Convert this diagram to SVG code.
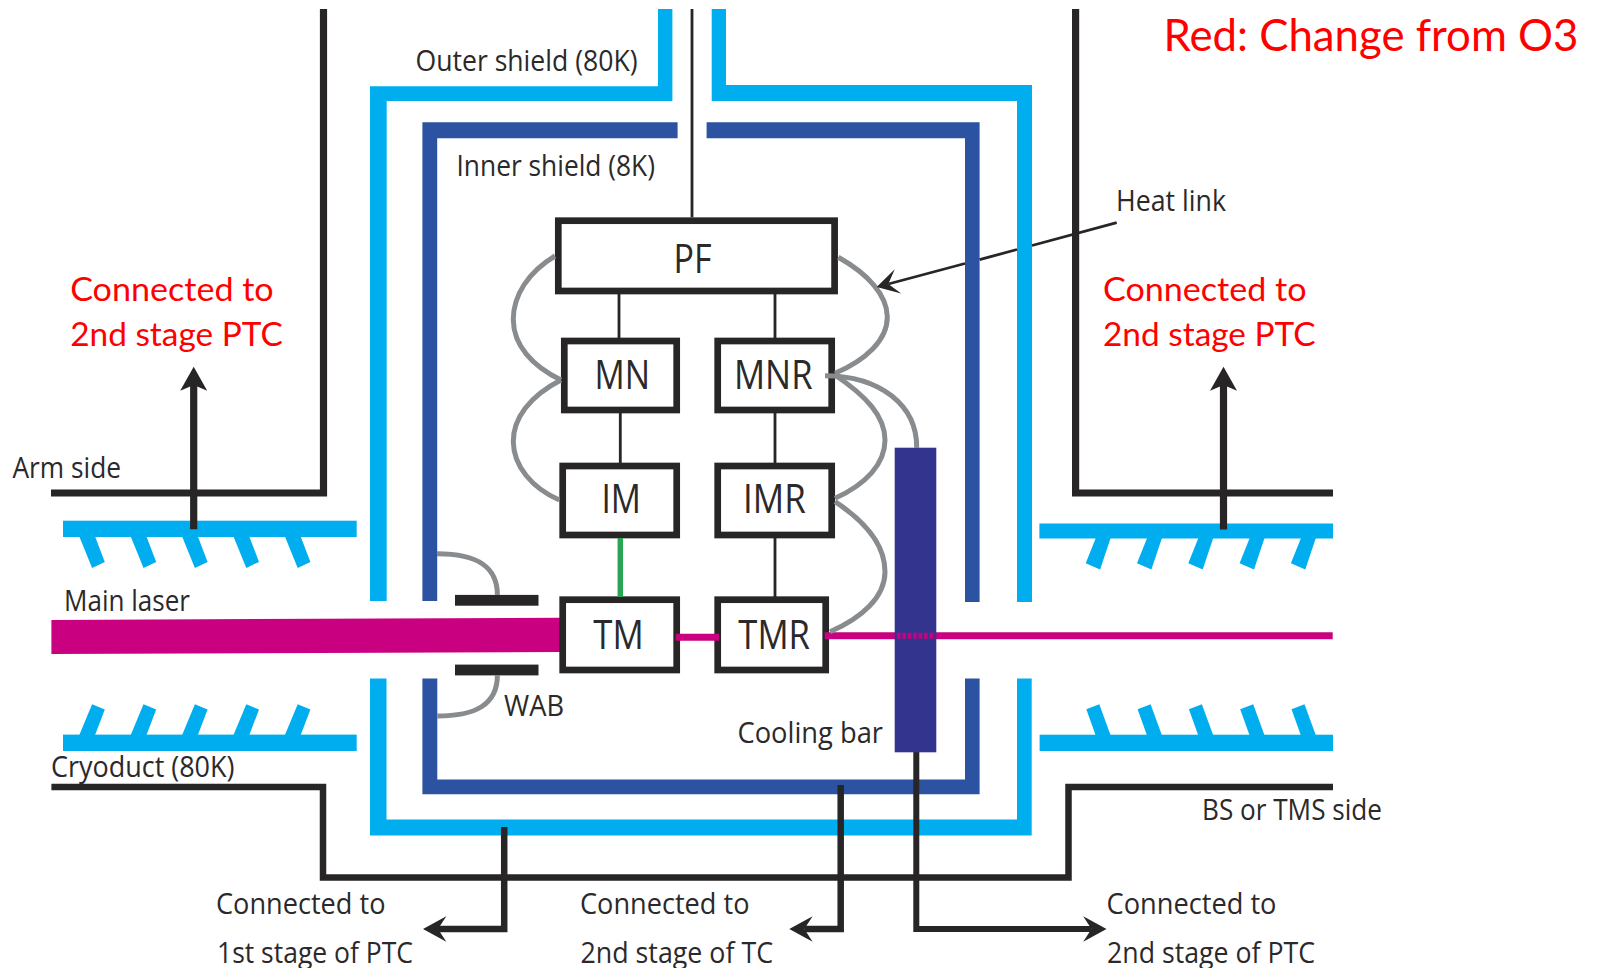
<svg xmlns="http://www.w3.org/2000/svg" width="1599" height="968" viewBox="0 0 1599 968">
<style>
text{font-family:"Open Sans","Noto Sans","Liberation Sans",sans-serif;fill:#2b292a}
.s{font-size:29px}
.n{font-size:41px}
.r{font-family:Lato,"Open Sans","Liberation Sans",sans-serif;fill:#ff0000;font-size:33.5px}
.cy{fill:#00aeef}
.bl{fill:#2b53a1}
.frame{fill:#fff;stroke:#272526;stroke-width:6.7}
.k{fill:none;stroke:#272526;stroke-linejoin:miter}
.wire{fill:none;stroke:#272526;stroke-width:2.8}
.hl{fill:none;stroke:#898c8e;stroke-width:5}
.mg{fill:none;stroke:#c9007f;stroke-width:7}
</style>
<defs>
<marker id="head" markerUnits="userSpaceOnUse" markerWidth="34" markerHeight="34" refX="18" refY="17" orient="auto"><path d="M33 17L9.7 4.3L18 17L9.7 29.7Z" fill="#272526"/></marker>
<marker id="headUp" markerUnits="userSpaceOnUse" markerWidth="34" markerHeight="34" refX="14.7" refY="17" orient="auto"><path d="M33 17L9 3.5L14.7 17L9 30.5Z" fill="#272526"/></marker>
<marker id="headLink" markerUnits="userSpaceOnUse" markerWidth="34" markerHeight="34" refX="15" refY="17" orient="auto"><path d="M27 17L5 4.5L15 17L5 29.5Z" fill="#272526"/></marker>
<path id="hatchA" class="cy" d="M79.1 536L94.9 536L104.8 561.9L92.1 568Z"/>
<path id="hatchB" class="cy" d="M79.1 735.6L94.9 735.6L104.8 709.4L92.1 704.3Z"/>
<path id="hatchC" class="cy" d="M1096 537.5L1110.8 537.5L1100.1 569.5L1085.7 563.3Z"/>
<path id="hatchD" class="cy" d="M1095.8 735.7L1110.8 735.7L1099.3 704.3L1086.3 709.3Z"/>
</defs>
<rect width="1599" height="968" fill="#fff"/>

<g id="shields">
<path class="cy" d="M370 601V86.3H658V9H672.4V101H386.7V601Z"/>
<path class="cy" d="M711.7 9H726V85H1032V602H1017V101H711.7Z"/>
<path class="cy" d="M370 678.4V835.6H1031.7V678.4H1017V819.6H386.5V678.4Z"/>
<path class="bl" d="M422.4 601V122.3H677.6V138.3H437.2V601Z"/>
<path class="bl" d="M706.6 122.3H979.6V602H965V138.3H706.6Z"/>
<path class="bl" d="M422.4 678.4V794.3H979.6V678.4H965V779.4H437.3V678.4Z"/>
</g>

<g id="cryoduct">
<rect class="cy" x="63" y="520.7" width="293.7" height="16.3"/>
<rect class="cy" x="63" y="734.6" width="293.7" height="16.4"/>
<rect class="cy" x="1039.4" y="523.5" width="293.6" height="15"/>
<rect class="cy" x="1039.6" y="734.7" width="293.4" height="16.3"/>
<use href="#hatchA"/><use href="#hatchA" x="51.4"/><use href="#hatchA" x="102.8"/><use href="#hatchA" x="154.2"/><use href="#hatchA" x="205.6"/>
<use href="#hatchB"/><use href="#hatchB" x="51.4"/><use href="#hatchB" x="102.8"/><use href="#hatchB" x="154.2"/><use href="#hatchB" x="205.6"/>
<use href="#hatchC"/><use href="#hatchC" x="51.3"/><use href="#hatchC" x="102.6"/><use href="#hatchC" x="153.9"/><use href="#hatchC" x="205.2"/>
<use href="#hatchD"/><use href="#hatchD" x="51.3"/><use href="#hatchD" x="102.6"/><use href="#hatchD" x="153.9"/><use href="#hatchD" x="205.2"/>
</g>

<g id="laser"><path d="M51.4 620L560 617.8V652L51.4 654Z" fill="#c9007f"/></g>
<g id="wab">
<rect x="455" y="594.9" width="83.5" height="10.8" fill="#272526"/>
<rect x="455" y="664.6" width="83.5" height="10.8" fill="#272526"/>
</g>

<g id="node-pf"><rect class="frame" x="558.3" y="220.7" width="276.3" height="70.3"/><text class="n" x="673.5" y="273" textLength="38" lengthAdjust="spacingAndGlyphs">PF</text></g>
<g id="node-mn"><rect class="frame" x="564.3" y="341" width="112.4" height="69"/><text class="n" x="594.5" y="389" textLength="55.5" lengthAdjust="spacingAndGlyphs">MN</text></g>
<g id="node-mnr"><rect class="frame" x="717.7" y="341" width="114" height="69"/><text class="n" x="734" y="389" textLength="78.5" lengthAdjust="spacingAndGlyphs">MNR</text></g>
<g id="node-im"><rect class="frame" x="562.7" y="466" width="114" height="69"/><text class="n" x="601.5" y="513" textLength="39.5" lengthAdjust="spacingAndGlyphs">IM</text></g>
<g id="node-imr"><rect class="frame" x="717.7" y="466" width="114" height="69"/><text class="n" x="743" y="513" textLength="62.7" lengthAdjust="spacingAndGlyphs">IMR</text></g>
<g id="node-tm"><rect class="frame" x="562.7" y="599.7" width="114" height="70.3"/><text class="n" x="593.3" y="649.3" textLength="50.4" lengthAdjust="spacingAndGlyphs">TM</text></g>
<g id="node-tmr"><rect class="frame" x="717.7" y="599.7" width="108" height="70.3"/><text class="n" x="738.3" y="649.3" textLength="71.7" lengthAdjust="spacingAndGlyphs">TMR</text></g>

<g id="connectors">
<path class="wire" d="M692 9V217.3"/>
<path class="wire" d="M619 294V338M775 294V338M620.3 413V463M775 413V463M775 538V597"/>
<path d="M620.3 538V597" fill="none" stroke="#2aa457" stroke-width="5.5"/>
<path class="mg" d="M675.7 637.3H719"/>
<path class="mg" d="M824.7 635.7H1332.7"/>
<path class="hl" d="M555 256C528 272 513 296 513.3 320C513.5 345 532 366 561 380"/>
<path class="hl" d="M561 380C530 396 513 418 513.3 441.7C513.5 466 532 488 559.3 500"/>
<path class="hl" d="M838.3 257.3C868 274 887 295 887.3 316.7C887.5 340 866 360 835 373.3"/>
<path class="hl" d="M835 375C866 396 885 416 885 440C885 464 866 484 835 498.3"/>
<path class="hl" d="M835 501.7C866 522 885 546 885 571.7C885 597 862 618 830 631.7"/>
<path class="hl" d="M825 375.7C880 376 917 405 916.7 447.7"/>
<path class="hl" d="M437 553.8C475 553.8 497.4 565 497.4 595"/>
<path class="hl" d="M437.3 716C475 716 497.4 705 497.4 675"/>
<path fill="none" stroke="#272526" stroke-width="2.8" d="M1116.7 222.7L1032 245.5M1017 249.5L979.6 259.6"/>
<path fill="none" stroke="#272526" stroke-width="2.8" marker-end="url(#headLink)" d="M965 263.5L888.3 284"/>
<path class="k" stroke-width="7.2" d="M51 493H323.5V9"/>
<path class="k" stroke-width="7.2" d="M1075.6 9V493H1333"/>
<path class="k" stroke-width="6.5" d="M51.4 787H323V877.5H1068.5V787H1333"/>
<path class="k" stroke-width="7.2" marker-end="url(#headUp)" d="M193.7 529.3V385"/>
<path class="k" stroke-width="7.2" marker-end="url(#headUp)" d="M1223.5 529.6V385"/>
<path class="k" stroke-width="6.5" marker-end="url(#head)" d="M504.2 827V929H438"/>
<path class="k" stroke-width="6.5" marker-end="url(#head)" d="M840.7 785V929H804.3"/>
<path class="k" stroke-width="6" marker-end="url(#head)" d="M916.3 752V929H1091.5"/>
</g>

<g id="node-cooling-bar">
<rect x="894.7" y="447.7" width="41.6" height="304.6" fill="#33348e"/>
<path d="M897 635.7H935" fill="none" stroke="#c9007f" stroke-width="6" stroke-dasharray="3.6 1.8"/>
</g>

<g id="labels">
<text class="s" x="415.5" y="70.5" textLength="222" lengthAdjust="spacingAndGlyphs">Outer shield (80K)</text>
<text class="s" x="456.5" y="175.7" textLength="198.5" lengthAdjust="spacingAndGlyphs">Inner shield (8K)</text>
<text class="s" x="1116" y="210.5" textLength="110" lengthAdjust="spacingAndGlyphs">Heat link</text>
<text class="s" x="12.5" y="477.7" textLength="108.5" lengthAdjust="spacingAndGlyphs">Arm side</text>
<text class="s" x="64" y="611" textLength="126" lengthAdjust="spacingAndGlyphs">Main laser</text>
<text class="s" x="51" y="776.5" textLength="183.5" lengthAdjust="spacingAndGlyphs">Cryoduct (80K)</text>
<text class="s" x="504" y="716" textLength="60" lengthAdjust="spacingAndGlyphs">WAB</text>
<text class="s" x="737.5" y="743" textLength="145.5" lengthAdjust="spacingAndGlyphs">Cooling bar</text>
<text class="s" x="1202" y="820" textLength="180" lengthAdjust="spacingAndGlyphs">BS or TMS side</text>
<text class="s" x="216" y="914" textLength="169.5" lengthAdjust="spacingAndGlyphs">Connected to</text>
<text class="s" x="217" y="963" textLength="196" lengthAdjust="spacingAndGlyphs">1st stage of PTC</text>
<text class="s" x="580" y="914" textLength="169.5" lengthAdjust="spacingAndGlyphs">Connected to</text>
<text class="s" x="580.5" y="963" textLength="192.5" lengthAdjust="spacingAndGlyphs">2nd stage of TC</text>
<text class="s" x="1106.5" y="914" textLength="170" lengthAdjust="spacingAndGlyphs">Connected to</text>
<text class="s" x="1107" y="963" textLength="208" lengthAdjust="spacingAndGlyphs">2nd stage of PTC</text>
<text class="r" x="70.2" y="301" textLength="203.5" lengthAdjust="spacingAndGlyphs">Connected to</text>
<text class="r" x="70.2" y="346" textLength="212.5" lengthAdjust="spacingAndGlyphs">2nd stage PTC</text>
<text class="r" x="1103" y="301" textLength="203.5" lengthAdjust="spacingAndGlyphs">Connected to</text>
<text class="r" x="1103" y="346" textLength="212.5" lengthAdjust="spacingAndGlyphs">2nd stage PTC</text>
<text class="r" x="1163.5" y="51" style="font-size:44px" textLength="415" lengthAdjust="spacingAndGlyphs">Red: Change from O3</text>
</g>
</svg>
